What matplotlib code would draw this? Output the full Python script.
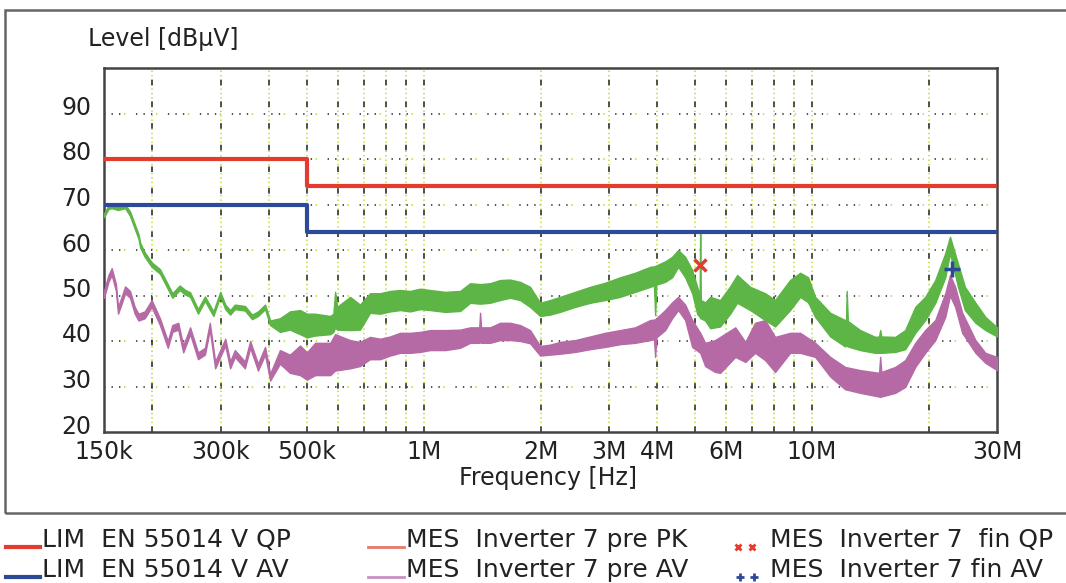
import numpy as np
import matplotlib
matplotlib.use('Agg')
import matplotlib.pyplot as plt
from matplotlib.transforms import ScaledTranslation
from matplotlib.patches import Rectangle
from matplotlib.lines import Line2D

plt.rcParams['lines.scale_dashes'] = False
plt.rcParams['font.family'] = ['DejaVu Sans']

# limit lines (MHz, dBuV)
lim_f = [0.15, 0.5, 30.0]
lim_qp = [80, 74, 74]
lim_av = [70, 64, 64]

# pre scan PK (green): frequency, lower and upper edge of the trace
pk_f = [0.150, 0.154, 0.157, 0.163, 0.170, 0.175, 0.178, 0.184, 0.186, 0.191,
        0.199, 0.209, 0.215, 0.225, 0.235, 0.243, 0.250, 0.262, 0.273, 0.287,
        0.299, 0.308, 0.317, 0.326, 0.346, 0.361, 0.374, 0.390, 0.402, 0.426,
        0.452, 0.480, 0.500, 0.525, 0.574, 0.585, 0.591, 0.598, 0.646, 0.685, 0.727,
        0.772, 0.819, 0.869, 0.922, 0.978, 1.038, 1.135, 1.241, 1.317, 1.397,
        1.482, 1.573, 1.669, 1.771, 1.879, 1.995, 2.116, 2.245, 2.455, 2.684,
        2.933, 3.206, 3.505, 3.831, 3.920, 3.947, 3.975, 4.188, 4.365, 4.524, 4.716,
        4.916, 5.064, 5.140, 5.156, 5.175, 5.310, 5.472, 5.804, 6.160, 6.420, 6.935,
        7.578, 8.041, 8.790, 9.330, 9.780, 10.20, 11.15, 12.18, 12.25, 12.30, 12.38,
        13.32, 14.57, 14.90, 15.00, 15.10, 16.40, 17.40, 18.47, 19.59, 20.80, 22.07,
        22.70, 23.80, 24.80, 26.40, 28.00, 30.00]
pk_lo = [67.2, 69.0, 69.2, 68.8, 69.2, 67.5, 65.8, 62.5, 60.5, 58.5,
         56.3, 54.8, 52.8, 49.5, 51.2, 50.2, 49.7, 46.0, 48.8, 45.5,
         49.8, 47.0, 45.8, 47.0, 46.7, 44.8, 45.5, 47.0, 43.5, 42.0,
         42.5, 41.5, 40.8, 41.2, 41.5, 42.0, 43.0, 42.5, 42.4, 42.5, 46.2,
         46.0, 46.5, 46.8, 46.5, 47.0, 46.8, 46.4, 46.6, 48.4, 48.2,
         48.4, 49.0, 49.5, 49.0, 47.5, 45.5, 45.8, 46.4, 47.5, 48.4,
         49.0, 49.7, 50.8, 51.9, 52.2, 45.7, 52.4, 53.0, 54.0, 56.3, 54.0,
         50.5, 46.0, 45.3, 45.0, 45.0, 44.5, 42.8, 43.2, 46.0, 48.4, 46.8,
         44.6, 43.2, 46.8, 49.7, 48.5, 45.3, 41.0, 38.8, 39.0, 39.0, 38.8,
         38.0, 37.4, 37.4, 37.4, 37.4, 37.6, 38.2, 41.8, 44.6, 48.4, 54.0,
         59.3, 51.9, 46.8, 44.0, 42.4, 41.0]
pk_hi = [68.0, 69.8, 70.0, 69.6, 70.0, 68.5, 66.8, 63.5, 61.5, 59.5,
         57.3, 55.8, 53.8, 50.5, 52.2, 51.2, 50.7, 47.0, 49.8, 46.5,
         50.8, 48.0, 46.8, 48.0, 47.7, 45.8, 46.5, 48.0, 44.5, 45.0,
         46.5, 46.8, 46.0, 46.0, 45.5, 46.0, 50.8, 47.5, 49.7, 48.0, 50.5,
         50.5, 51.0, 51.2, 51.0, 51.5, 51.2, 50.8, 51.0, 52.7, 52.5,
         52.7, 53.4, 53.5, 53.0, 51.9, 48.4, 49.0, 49.7, 50.8, 51.9,
         52.8, 54.0, 55.0, 56.3, 56.4, 56.5, 56.6, 57.5, 58.5, 60.0, 58.5,
         55.6, 51.9, 50.0, 64.4, 49.0, 48.5, 49.7, 49.0, 52.0, 54.5, 51.9,
         50.5, 49.0, 53.4, 55.0, 54.0, 49.7, 46.2, 44.6, 44.6, 51.0, 44.4,
         42.4, 40.9, 41.0, 42.4, 41.0, 40.9, 42.4, 47.5, 49.7, 53.4, 59.3,
         62.9, 57.0, 51.9, 48.4, 45.3, 43.0]

# pre scan AV (magenta)
av_f = [0.150, 0.154, 0.157, 0.161, 0.163, 0.167, 0.170, 0.175, 0.180, 0.184,
        0.191, 0.199, 0.209, 0.219, 0.225, 0.233, 0.240, 0.250, 0.262, 0.273,
        0.281, 0.290, 0.308, 0.317, 0.326, 0.346, 0.357, 0.374, 0.390, 0.402,
        0.426, 0.452, 0.480, 0.500, 0.525, 0.574, 0.591, 0.646, 0.685, 0.727,
        0.772, 0.819, 0.869, 0.922, 0.978, 1.038, 1.135, 1.241, 1.317, 1.390,
        1.397, 1.405, 1.482, 1.573, 1.669, 1.771, 1.879, 1.995, 2.116, 2.245,
        2.455, 2.684, 2.933, 3.206, 3.505, 3.831, 3.920, 3.947, 3.975, 4.188,
        4.365, 4.524, 4.716, 4.916, 5.156, 5.310, 5.630, 5.804, 6.350, 6.740,
        7.140, 7.578, 8.041, 8.790, 9.330, 10.20, 11.15, 12.18, 13.32, 14.90,
        15.00, 15.10, 16.40, 17.40, 18.47, 19.59, 20.80, 22.07, 22.70, 23.40,
        24.40, 26.40, 28.00, 30.00]
av_lo = [49.5, 53.0, 54.5, 51.0, 46.0, 48.5, 50.5, 49.5, 46.0, 44.5,
         45.0, 47.5, 43.5, 38.5, 42.0, 42.5, 37.5, 41.5, 36.0, 37.0,
         42.5, 34.0, 39.0, 34.0, 36.5, 34.0, 38.5, 33.5, 37.0, 31.3,
         35.0, 33.0, 32.5, 31.5, 32.5, 32.5, 33.5, 34.0, 34.5, 36.0,
         36.0, 36.8, 37.4, 37.4, 37.6, 38.0, 38.0, 38.5, 39.6, 39.6,
         39.8, 39.6, 39.6, 40.2, 40.2, 40.0, 39.5, 36.8, 37.0, 37.2,
         37.6, 38.2, 38.7, 39.3, 39.6, 40.2, 40.4, 36.5, 40.8, 42.4,
         45.0, 46.8, 44.6, 38.7, 37.4, 34.5, 33.2, 33.0, 36.5, 35.4,
         37.4, 35.8, 33.2, 37.4, 37.4, 36.5, 32.2, 29.4, 28.6, 27.8,
         27.7, 27.8, 28.6, 29.9, 34.3, 37.4, 40.2, 45.3, 50.0, 47.5,
         41.8, 37.4, 35.2, 33.6]
av_hi = [51.0, 54.5, 56.0, 52.5, 47.5, 50.0, 52.0, 51.0, 47.5, 46.0,
         46.5, 49.0, 45.0, 40.0, 43.5, 44.0, 39.0, 43.0, 37.5, 38.5,
         44.0, 35.5, 40.5, 35.5, 38.0, 35.5, 40.0, 35.0, 38.7, 32.8,
         38.0, 37.0, 39.0, 37.5, 39.6, 39.6, 41.5, 40.2, 39.8, 40.9,
         40.5, 41.0, 41.8, 41.8, 42.0, 42.4, 42.4, 42.5, 43.0, 43.0,
         46.2, 43.0, 43.0, 44.0, 44.0, 43.5, 42.4, 38.9, 39.2, 39.8,
         40.2, 41.0, 41.8, 42.4, 43.0, 44.6, 44.7, 44.8, 45.0, 46.8,
         48.5, 49.7, 48.0, 44.6, 41.8, 39.6, 40.2, 40.9, 43.0, 39.8,
         44.0, 44.6, 40.9, 41.8, 41.8, 39.6, 36.5, 34.3, 33.6, 33.0,
         36.5, 33.2, 34.3, 35.8, 39.6, 42.4, 44.6, 50.5, 54.5, 51.9,
         46.2, 40.2, 37.4, 36.5]

# final measurements
fin_qp_f = [5.15]
fin_qp_v = [56.7]
fin_av_f = [23.0]
fin_av_v = [55.8]

xtick_f = [0.15, 0.3, 0.5, 1, 2, 3, 4, 6, 10, 30]
xtick_lab = ['150k', '300k', '500k', '1M', '2M', '3M', '4M', '6M', '10M', '30M']
grid_f = [0.2, 0.3, 0.4, 0.5, 0.6, 0.7, 0.8, 0.9, 1, 2, 3, 4, 5, 6, 7, 8, 9, 10, 20]
ytick_v = [20, 30, 40, 50, 60, 70, 80, 90]

red = '#e33b30'
blue = '#2c4a98'
green = '#5cb544'
magenta = '#b56aa5'
gridgreen = '#b3e024'

fig = plt.figure(figsize=(10.66, 5.83), dpi=100)
ax = fig.add_axes([104/1066, 1-432/583, 893/1066, 364/583])

# grid
for f in grid_f:
    ax.axvline(f, color=gridgreen, lw=1.1, ls=(0, (1.0, 2.2)), zorder=1)
    ax.axvline(f, color='#333333', lw=1.2, ls=(0, (4.0, 11.6)), zorder=1)
for v in ytick_v[1:]:
    ax.axhline(v, color='#333333', lw=1.2, ls=(0, (1.0, 4.4, 1.0, 4.4, 1.0, 11.2)), zorder=1)
    ax.axhline(v, color=gridgreen, lw=1.2, ls=(8.6, (1.0, 22.0)), zorder=1)

# pre scans
ax.fill_between(av_f, av_lo, av_hi, color=magenta, ec=magenta, lw=1.0, zorder=3)
ax.fill_between(pk_f, pk_lo, pk_hi, color=green, ec=green, lw=1.0, zorder=4)

# limits
ax.plot(lim_f, lim_qp, drawstyle='steps-post', color=red, lw=3.0, zorder=5)
ax.plot(lim_f, lim_av, drawstyle='steps-post', color=blue, lw=3.0, zorder=5)

# finals
ax.plot(fin_qp_f, fin_qp_v, 'x', color=red, ms=8, mew=2.5, zorder=6)
ax.plot(fin_av_f, fin_av_v, '+', color=blue, ms=11, mew=2.5, zorder=6)

ax.set_xscale('log')
ax.set_xlim(0.15, 30)
ax.set_ylim(20, 100)
ax.set_xticks(xtick_f)
ax.set_xticklabels(xtick_lab)
ax.xaxis.set_minor_locator(plt.NullLocator())
ax.set_yticks(ytick_v)
ax.tick_params(length=0, labelsize=17, colors='#222222')
ax.tick_params(axis='y', pad=9)
ax.tick_params(axis='x', pad=6)
for lab in ax.get_yticklabels():
    lab.set_transform(lab.get_transform() + ScaledTranslation(0, 0.08, fig.dpi_scale_trans))
for s in ax.spines.values():
    s.set_color('#444444')
    s.set_linewidth(1.8)

fig.text(88/1066, 1-39/583, 'Level [dBµV]', fontsize=17, color='#222222', va='center', ha='left')
fig.text(548/1066, 1-478/583, 'Frequency [Hz]', fontsize=17, color='#222222', va='center', ha='center')

# outer frame
fig.add_artist(Rectangle((5/1066, 1-513/583), 1.2, 503/583, transform=fig.transFigure,
                         fill=False, ec='#666666', lw=1.8))

# legend
rows = [1-540/583, 1-570/583]
fig.add_artist(Line2D([6/1066, 40/1066], [rows[0]-0.012]*2, color=red, lw=3))
fig.add_artist(Line2D([6/1066, 40/1066], [rows[1]-0.012]*2, color=blue, lw=3))
fig.add_artist(Line2D([368/1066, 404/1066], [rows[0]-0.012]*2, color='#e87868', lw=2))
fig.add_artist(Line2D([368/1066, 404/1066], [rows[1]-0.012]*2, color='#c990c4', lw=2))
fig.add_artist(Line2D([738/1066, 752/1066], [rows[0]-0.012]*2, color=red, lw=0,
                      marker='x', ms=5, mew=2))
fig.add_artist(Line2D([740/1066, 754/1066], [rows[1]-0.012]*2, color=blue, lw=0,
                      marker='+', ms=6, mew=2))
leg_text = [('LIM  EN 55014 V QP', 42, 0), ('LIM  EN 55014 V AV', 42, 1),
            ('MES  Inverter 7 pre PK', 406, 0), ('MES  Inverter 7 pre AV', 406, 1),
            ('MES  Inverter 7  fin QP', 770, 0), ('MES  Inverter 7 fin AV', 770, 1)]
for t, x, r in leg_text:
    fig.text(x/1066, rows[r], t, fontsize=18, color='#222222', va='center', ha='left')

fig.savefig('out.png', dpi=100)
